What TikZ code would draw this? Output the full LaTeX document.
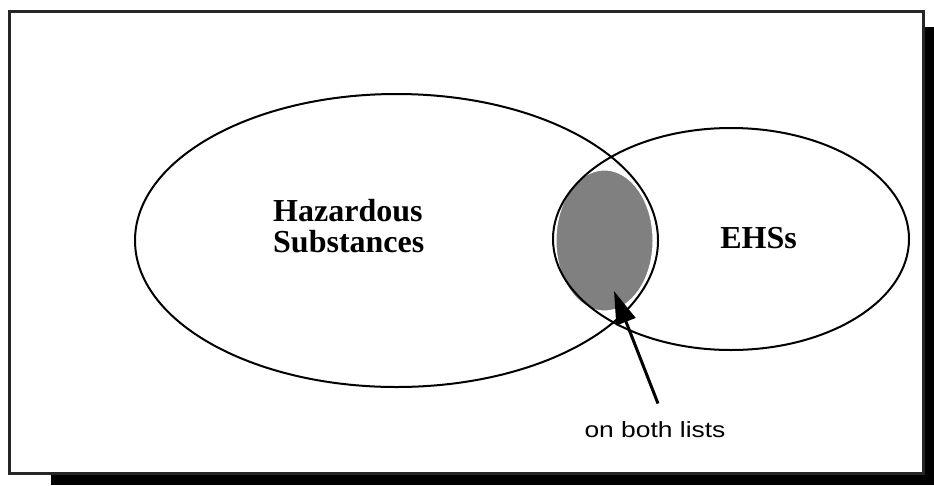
\documentclass[tikz,border=0pt]{standalone}
\usepackage{fontspec}
\setmainfont{Liberation Serif}
\newfontfamily\notefont[FakeStretch=1.2]{Liberation Sans}
\usetikzlibrary{shapes.geometric,arrows.meta,positioning}

\tikzset{
  setring/.style={draw,ellipse,line width=2pt,inner sep=0pt},
  setname/.style={font=\fontsize{32}{31}\selectfont\bfseries,inner sep=0pt},
  pointer/.style={line width=3pt,-{Triangle[length=33pt,width=20pt]}},
}

\begin{document}
\begin{tikzpicture}[x=1pt,y=-1pt]
\useasboundingbox (0,0) rectangle (934,485);
% frame and its shadow
\fill[black] (51,27) rectangle (934,485);
\draw[line width=2.5pt,black!85,fill=white] (9.7,11.3) rectangle (923.3,473.3);
% shared part first, rings over it
\node[ellipse,fill=gray,draw=white,line width=1pt,minimum width=97pt,minimum height=141pt,inner sep=0pt] (both) at (604.5,240.5) {};
\node[setring,minimum width=523pt,minimum height=293pt] (hazard) at (396.5,240.5) {};
\node[setring,minimum width=356pt,minimum height=222pt] (ehs) at (731,239) {};
\node[setname,align=left,anchor=west] (hazlabel) at (273,226.5) {Hazardous\\Substances};
\node[setname,anchor=base] (ehslabel) at (758.5,248) {EHSs};
\node[font=\notefont\fontsize{22}{26}\selectfont,anchor=base] (bothlabel) at (655,437) {on both lists};
\coordinate (tip) at (614,291);
\draw[pointer] ([xshift=3pt,yshift=14pt]bothlabel.north) -- (tip);
\end{tikzpicture}
\end{document}
